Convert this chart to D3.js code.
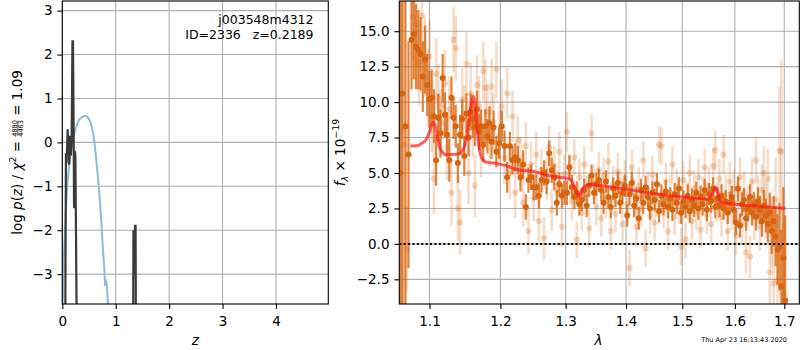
<!DOCTYPE html>
<html><head><meta charset="utf-8">
<script src="https://cdn.jsdelivr.net/npm/d3@7"></script>
<style>body{margin:0;background:#fff} svg{display:block} text{font-family:"DejaVu Sans",sans-serif; white-space:pre}</style>
</head><body><svg id="c" width="800" height="350"></svg>
<script>
// ---------- Left panel: p(z) ----------
const pzDomainX = [0, 4.98];
const pzDomainY = [-3.68, 3.22];
const pzTicksX = [0, 1, 2, 3, 4];
const pzTicksY = [-3, -2, -1, 0, 1, 2, 3];
// smooth prior-like curve (blue)
const pzBlue = [[0.0,-4.2],[0.013,-3.36],[0.03,-2.6],[0.05,-2.0],[0.075,-1.35],[0.1,-0.86],[0.13,-0.5],[0.163,-0.18],[0.2,0.08],[0.24,0.28],[0.31,0.51],[0.36,0.57],[0.41,0.6],[0.45,0.6],[0.49,0.55],[0.53,0.45],[0.56,0.32],[0.59,0.12],[0.61,-0.1],[0.64,-0.45],[0.66,-0.7],[0.69,-1.1],[0.71,-1.45],[0.73,-1.8],[0.75,-2.2],[0.77,-2.6],[0.79,-2.95],[0.80,-3.25],[0.81,-3.12],[0.83,-3.2],[0.86,-3.75],[0.87,-4.2]];
// p(z) from the fit (black)
const pzBlack = [[0.055,-4.5],[0.068,-0.25],[0.085,-0.3],[0.10,0.3],[0.115,-0.45],[0.13,-0.5],[0.145,0.15],[0.16,-0.3],[0.175,0.1],[0.19,2.3],[0.20,2.3],[0.21,0.7],[0.22,-1.5],[0.235,-0.2],[0.245,-0.3],[0.272,-4.5],
  [1.325,-4.5],[1.332,-2.0],[1.338,-2.6],[1.345,-2.2],[1.355,-3.0],[1.362,-1.9],[1.372,-1.9],[1.378,-4.5]];
const pzLabel1 = "j003548m4312";
const pzLabel2 = "ID=2336   z=0.2189";

// ---------- Right panel: spectrum ----------
const specDomainX = [1.06, 1.7316];
const specDomainY = [-4.24, 17.13];
const specTicksX = [1.1, 1.2, 1.3, 1.4, 1.5, 1.6, 1.7];
const specTicksY = [-2.5, 0, 2.5, 5, 7.5, 10, 12.5, 15];
// [wavelength, flux, error]
const darkSpec = [
[1.0615,5,40],[1.064,10.6,40],[1.068,8.3,40],[1.072,6.3,8],
[1.076,14.4,3.5],[1.079,14.8,3.2],[1.082,13.9,3],[1.085,13.7,2.8],[1.088,13.4,2.6],[1.091,11.8,2.5],[1.094,13.0,2.4],[1.097,11.2,2.2],
[1.100,10.2,2],[1.103,10.3,2],[1.106,9.0,1.9],[1.109,5.9,1.8],[1.112,8.9,1.7],[1.115,7.8,1.7],[1.118,11.7,1.7],[1.121,9.1,1.6],
[1.124,7.7,1.6],[1.127,5.9,1.5],[1.130,10.3,1.5],[1.133,8.9,1.5],[1.136,8.3,1.5],[1.139,5.7,1.4],[1.142,7.7,1.4],[1.145,8.8,1.4],
[1.148,6.2,1.4],[1.151,9.2,1.4],[1.154,7.5,1.3],[1.157,9.3,1.3],[1.160,8.8,1.3],[1.163,8.2,1.3],[1.166,9.5,1.3],[1.169,7.9,1.3],
[1.172,8.3,1.2],[1.175,7.0,1.2],[1.178,8.3,1.2],[1.181,7.6,1.2],[1.184,8.5,1.2],[1.187,7.2,1.2],[1.190,8.2,1.2],[1.194,6.5,1.1],
[1.198,7.1,1.1],[1.202,8.3,1.1],[1.206,6.9,1.1],[1.210,4.7,1.1],[1.214,6.9,1.0],[1.218,5.9,1.0],[1.222,6.1,1.0],[1.226,5.9,1.0],
[1.230,4.7,1.0],[1.234,5.6,1.0],[1.238,2.6,0.9],[1.242,4.5,0.9],[1.246,4.7,0.9],[1.250,4.0,0.9],[1.254,4.0,0.9],[1.258,3.4,0.9],
[1.262,4.5,0.9],[1.266,5.0,0.9],[1.270,4.4,0.9],[1.274,6.4,0.9],[1.278,5.2,0.9],[1.282,4.7,0.9],[1.286,2.9,0.9],[1.290,4.2,0.85],
[1.294,3.4,0.85],[1.298,3.6,0.85],[1.302,3.6,0.85],[1.306,5.4,0.85],[1.310,4.0,0.85],[1.314,3.3,0.85],[1.318,3.6,0.8],[1.322,2.8,0.8],
[1.326,3.1,0.8],[1.330,3.8,0.8],[1.334,2.7,0.8],[1.338,4.1,0.8],[1.342,4.8,0.8],[1.346,3.6,0.8],[1.350,4.2,0.8],[1.354,4.5,0.8],
[1.358,3.8,0.8],[1.362,2.9,0.8],[1.366,4.4,0.8],[1.370,3.3,0.8],[1.374,2.6,0.8],[1.378,3.9,0.8],[1.382,3.4,0.8],[1.386,4.3,0.8],
[1.390,2.9,0.8],[1.394,3.6,0.8],[1.398,4.1,0.8],[1.402,2.0,0.8],[1.406,3.5,0.8],[1.410,4.3,0.8],[1.414,2.7,0.8],[1.418,3.2,0.8],
[1.422,1.8,0.8],[1.426,3.8,0.8],[1.430,2.9,0.8],[1.434,4.0,0.8],[1.438,3.3,0.8],[1.442,2.5,0.8],[1.446,3.6,0.8],[1.450,3.1,0.8],
[1.454,4.2,0.8],[1.458,2.3,0.8],[1.462,3.4,0.8],[1.466,2.8,0.8],[1.470,3.7,0.8],[1.474,2.6,0.8],[1.478,3.2,0.8],[1.482,2.4,0.8],
[1.486,3.5,0.8],[1.490,2.9,0.8],[1.494,3.9,0.8],[1.498,2.2,0.8],[1.502,3.0,0.8],[1.506,2.6,0.8],[1.510,3.4,0.8],[1.514,2.3,0.8],
[1.518,3.1,0.8],[1.522,2.7,0.8],[1.526,3.6,0.8],[1.530,2.5,0.8],[1.534,3.3,0.8],[1.538,2.8,0.8],[1.542,3.8,0.8],[1.546,2.4,0.8],
[1.550,3.5,0.8],[1.554,3.0,0.8],[1.558,3.9,0.8],[1.562,2.6,0.8],[1.566,3.2,0.8],[1.570,2.7,0.8],[1.574,3.4,0.8],[1.578,2.5,0.8],
[1.582,3.0,0.8],[1.586,2.2,0.8],[1.590,2.9,0.8],[1.594,3.3,0.8],[1.598,2.4,0.8],[1.602,1.5,0.85],[1.606,3.9,0.85],[1.610,1.3,0.85],
[1.614,2.8,0.85],[1.618,3.1,0.85],[1.622,1.8,0.9],[1.626,2.5,0.9],[1.630,3.3,0.9],[1.634,2.2,0.9],[1.638,2.7,0.95],[1.642,1.9,0.95],
[1.646,3.0,1.0],[1.650,2.4,1.0],[1.654,1.6,1.1],[1.658,2.7,1.1],[1.662,2.0,1.2],[1.666,1.4,1.3],[1.670,2.2,1.4],[1.674,0.9,1.6],
[1.678,1.6,1.8],[1.682,0.5,2.1],[1.686,-0.4,2.5],[1.690,-0.2,3.1],[1.694,-3.0,4.0],[1.698,-1.0,5.0],[1.702,-4.0,6.0]];
const lightSpec = [
[1.063,8,30],[1.066,7,30],[1.070,-0.4,3],[1.078,16.0,3],[1.082,15.5,3],[1.086,12.8,3],[1.090,16.1,3],[1.094,13.2,2.8],[1.098,11.0,2.8],
[1.100,13.2,2.6],[1.103,9.0,2.5],[1.106,4.6,2.5],[1.109,12.0,2.5],[1.112,10.3,2.4],[1.115,8.5,2.4],[1.118,9.8,2.4],[1.121,11.3,2.4],
[1.124,6.8,2.3],[1.127,9.5,2.3],[1.130,3.6,2.3],[1.133,14.4,2.3],[1.136,13.8,2.3],[1.139,2.5,2.3],[1.142,1.5,2.3],[1.145,10.2,2.2],
[1.148,9.0,2.2],[1.151,12.7,2.2],[1.154,5.0,2.2],[1.157,10.6,2.2],[1.160,8.4,2.2],[1.163,4.1,2.2],[1.166,11.2,2.1],[1.169,9.7,2.1],
[1.172,6.8,2.1],[1.175,12.2,2.1],[1.178,11.0,2.0],[1.181,9.3,2.0],[1.184,7.4,2.0],[1.187,11.1,2.0],[1.190,8.6,2.0],[1.194,12.3,2.0],
[1.198,7.6,1.9],[1.202,9.7,1.9],[1.206,6.1,1.9],[1.210,10.6,1.8],[1.214,5.0,1.8],[1.218,9.0,1.8],[1.222,3.6,1.8],[1.226,7.3,1.7],
[1.230,5.8,1.7],[1.234,2.9,1.7],[1.238,6.9,1.7],[1.242,0.9,1.6],[1.246,5.6,1.6],[1.250,3.2,1.6],[1.254,6.3,1.6],[1.258,1.6,1.5],
[1.262,5.2,1.5],[1.266,0.4,1.5],[1.270,4.6,1.5],[1.274,6.8,1.5],[1.278,2.4,1.5],[1.282,5.5,1.4],[1.286,3.8,1.4],[1.290,6.5,1.4],
[1.294,1.2,1.4],[1.298,4.9,1.4],[1.302,7.9,1.4],[1.306,5.0,1.3],[1.310,3.0,1.3],[1.314,6.1,1.3],[1.318,0.3,1.3],[1.322,4.7,1.3],
[1.326,2.2,1.3],[1.330,5.6,1.3],[1.334,3.5,1.3],[1.338,1.1,1.3],[1.342,7.8,1.3],[1.346,4.3,1.3],[1.350,2.6,1.3],[1.354,5.2,1.3],
[1.358,1.8,1.3],[1.362,4.8,1.3],[1.366,3.1,1.3],[1.370,5.8,1.3],[1.374,0.9,1.3],[1.378,4.2,1.3],[1.382,2.1,1.3],[1.386,5.1,1.3],
[1.390,3.7,1.3],[1.394,1.4,1.3],[1.398,4.6,1.3],[1.402,2.8,1.3],[1.406,-1.7,1.3],[1.410,5.4,1.3],[1.414,3.4,1.3],[1.418,1.2,1.3],
[1.422,4.1,1.3],[1.426,2.5,1.3],[1.430,5.9,1.3],[1.434,-0.3,1.3],[1.438,3.8,1.3],[1.442,2.0,1.3],[1.446,4.9,1.3],[1.450,1.5,1.3],
[1.454,3.2,1.3],[1.458,7.0,1.3],[1.462,6.9,1.3],[1.466,2.4,1.3],[1.470,4.4,1.3],[1.474,0.9,1.3],[1.478,3.6,1.3],[1.482,5.6,1.3],
[1.486,1.9,1.3],[1.490,4.0,1.3],[1.494,2.7,1.3],[1.498,-0.2,1.3],[1.502,4.5,1.3],[1.506,0.3,1.3],[1.510,3.1,1.3],[1.514,5.0,1.3],
[1.518,1.6,1.3],[1.522,3.9,1.3],[1.526,2.3,1.3],[1.530,4.7,1.3],[1.534,1.0,1.3],[1.538,3.4,1.3],[1.542,5.4,1.3],[1.546,2.0,1.3],
[1.550,4.1,1.3],[1.554,1.4,1.3],[1.558,5.5,1.3],[1.562,6.6,1.4],[1.566,3.0,1.4],[1.570,4.6,1.4],[1.574,1.9,1.4],[1.578,6.3,1.4],
[1.582,3.5,1.4],[1.586,0.9,1.4],[1.590,4.4,1.4],[1.594,2.4,1.4],[1.598,3.9,1.4],[1.602,0.6,1.4],[1.606,2.9,1.4],[1.610,4.7,1.4],
[1.614,1.4,1.5],[1.618,3.6,1.5],[1.622,-0.6,1.5],[1.626,2.6,1.5],[1.630,-0.9,1.5],[1.634,4.4,1.6],[1.638,1.9,1.6],[1.642,5.9,1.6],
[1.646,3.1,1.7],[1.650,1.2,1.7],[1.654,3.8,1.8],[1.658,5.0,1.9],[1.662,2.4,2.0],[1.666,4.6,2.1],[1.670,-2.0,2.3],[1.674,0.8,2.5],
[1.678,-2.8,2.7],[1.682,3.1,3.0],[1.686,-2.6,3.3],[1.690,6.6,4.5],[1.694,6.5,6.5],[1.698,-3.5,5.0]];
// best-fit model (red)
const modelSpec = [[1.0743,6.9],[1.080,6.9],[1.090,7.1],[1.096,7.4],[1.100,7.9],[1.103,8.4],[1.1054,8.6],[1.108,8.3],[1.111,7.5],[1.114,6.8],[1.118,6.45],[1.122,6.3],
[1.130,6.3],[1.140,6.35],[1.146,6.6],[1.150,7.2],[1.153,8.1],[1.156,9.3],[1.159,10.2],[1.161,10.4],[1.163,9.9],[1.1655,8.6],[1.168,7.2],[1.171,6.3],[1.175,5.9],
[1.180,5.75],[1.190,5.7],[1.200,5.6],[1.210,5.5],[1.220,5.3],[1.230,5.2],[1.250,5.1],[1.270,4.85],[1.290,4.7],[1.305,4.6],[1.311,4.35],
[1.316,3.8],[1.3205,3.33],[1.324,3.55],[1.328,3.95],[1.333,4.12],[1.340,4.2],[1.360,4.1],[1.400,3.85],[1.450,3.55],[1.500,3.3],
[1.530,3.2],[1.548,3.15],[1.555,3.4],[1.5628,3.97],[1.567,3.6],[1.571,3.05],[1.576,2.9],[1.600,2.8],[1.650,2.65],[1.7026,2.5]];
const specZero = [0];
const timeStamp = "Thu Apr 23 16:13:43 2020";

// ---------- drawing ----------
const svg = d3.select("#c");
const FS = 13.5, TICK = 4.9, GRID = "#b0b0b0", LW = 1.1;
const ORANGE = "#d8650e";

function panel(x, y, ticksX, ticksY, fmtX, fmtY, id) {
  const [x0, x1] = x.range(), [y1, y0] = y.range();
  const g = svg.append("g");
  g.append("clipPath").attr("id", id).append("rect")
    .attr("x", x0).attr("y", y0).attr("width", x1 - x0).attr("height", y1 - y0);
  const grid = g.append("g");
  grid.selectAll(".gx").data(ticksX).join("line")
    .attr("x1", d => x(d)).attr("x2", d => x(d)).attr("y1", y0).attr("y2", y1)
    .attr("stroke", GRID).attr("stroke-width", LW);
  grid.selectAll(".gy").data(ticksY).join("line")
    .attr("y1", d => y(d)).attr("y2", d => y(d)).attr("x1", x0).attr("x2", x1)
    .attr("stroke", GRID).attr("stroke-width", LW);
  const data = g.append("g").attr("clip-path", `url(#${id})`);
  const ax = g.append("g").attr("transform", `translate(0,${y1})`)
    .call(d3.axisBottom(x).tickValues(ticksX).tickFormat(fmtX).tickSize(TICK).tickPadding(7.6));
  const ay = g.append("g").attr("transform", `translate(${x0},0)`)
    .call(d3.axisLeft(y).tickValues(ticksY).tickFormat(fmtY).tickSize(TICK).tickPadding(4.9));
  [ax, ay].forEach(a => {
    a.select(".domain").remove();
    a.selectAll("line").attr("stroke", "#000").attr("stroke-width", LW);
    a.selectAll("text").attr("font-size", FS).attr("font-family", "DejaVu Sans").attr("fill", "#000");
  });
  const frame = () => g.append("rect").attr("x", x0).attr("y", y0).attr("width", x1 - x0).attr("height", y1 - y0)
    .attr("fill", "none").attr("stroke", "#000").attr("stroke-width", LW);
  return { data, frame, g };
}

// Left panel
const zx = d3.scaleLinear().domain(pzDomainX).range([62.3, 328.3]);
const zy = d3.scaleLinear().domain(pzDomainY).range([304, 1]);
const P1 = panel(zx, zy, pzTicksX, pzTicksY, d3.format("d"), d3.format("d"), "clipL");
const zline = d3.line().x(d => zx(d[0])).y(d => zy(d[1]));
P1.data.append("path").attr("d", zline(pzBlue)).attr("fill", "none")
  .attr("stroke", "#8fbcdc").attr("stroke-width", 2).attr("stroke-linejoin", "round");
P1.data.append("path").attr("d", zline(pzBlack)).attr("fill", "none")
  .attr("stroke", "#3a3a3a").attr("stroke-width", 2.2).attr("stroke-linejoin", "miter");
P1.frame();
P1.g.append("text").attr("x", 313.5).attr("y", 23.5).attr("text-anchor", "end").attr("font-size", 12.5).text(pzLabel1);
P1.g.append("text").attr("x", 313.5).attr("y", 39).attr("text-anchor", "end").attr("font-size", 12.5).text(pzLabel2);
svg.append("text").attr("x", zx(2.49)).attr("y", 345).attr("text-anchor", "middle")
  .attr("font-size", FS).attr("font-style", "italic").text("z");

// Left y label (rotated, with stacked fraction)
{
  const outer = svg.append("g").attr("transform", "translate(22,152.5) rotate(-90)");
  const g = outer.append("g");
  const tA = g.append("text").attr("font-size", FS);
  tA.append("tspan").text("log ");
  tA.append("tspan").attr("font-style", "italic").text("p");
  tA.append("tspan").text("(");
  tA.append("tspan").attr("font-style", "italic").text("z");
  tA.append("tspan").text(") / ");
  tA.append("tspan").attr("font-style", "italic").text("χ");
  tA.append("tspan").attr("font-size", FS * 0.7).attr("dy", -FS * 0.42).text("2");
  tA.append("tspan").attr("dy", FS * 0.42).text(" = ");
  const lenA = tA.node().getComputedTextLength();
  const fracW = 15.5;
  const fc = lenA + fracW / 2 + 0.5;
  g.append("text").attr("x", fc).attr("y", -5.2).attr("text-anchor", "middle").attr("font-size", 6.6).text("4880");
  g.append("text").attr("x", fc).attr("y", 1.0).attr("text-anchor", "middle").attr("font-size", 6.6).text("4463");
  g.append("line").attr("x1", lenA + 0.5).attr("x2", lenA + fracW + 0.5).attr("y1", -4.2).attr("y2", -4.2)
    .attr("stroke", "#000").attr("stroke-width", 0.6);
  const tB = g.append("text").attr("x", lenA + fracW + 1).attr("font-size", FS).text(" = 1.09");
  const lenB = tB.node().getComputedTextLength();
  g.attr("transform", `translate(${-(lenA + fracW + 1 + lenB) / 2},0)`);
}

// Right panel
const sx = d3.scaleLog().domain(specDomainX).range([399.3, 799.3]);
const sy = d3.scaleLinear().domain(specDomainY).range([304, 1]);
const P2 = panel(sx, sy, specTicksX, specTicksY, d3.format(".1f"), d3.format(".1f"), "clipR");
// light series
P2.data.append("g").selectAll("line").data(lightSpec).join("line")
  .attr("x1", d => sx(d[0])).attr("x2", d => sx(d[0]))
  .attr("y1", d => sy(d[1] - d[2])).attr("y2", d => sy(d[1] + d[2]))
  .attr("stroke", ORANGE).attr("stroke-opacity", 0.22).attr("stroke-width", 2.6);
P2.data.append("g").selectAll("circle").data(lightSpec).join("circle")
  .attr("cx", d => sx(d[0])).attr("cy", d => sy(d[1])).attr("r", 3.1)
  .attr("fill", ORANGE).attr("fill-opacity", 0.25);
// dark series
P2.data.append("g").selectAll("line").data(darkSpec).join("line")
  .attr("x1", d => sx(d[0])).attr("x2", d => sx(d[0]))
  .attr("y1", d => sy(d[1] - d[2])).attr("y2", d => sy(d[1] + d[2]))
  .attr("stroke", ORANGE).attr("stroke-opacity", 0.8).attr("stroke-width", 2.2);
P2.data.append("g").selectAll("circle").data(darkSpec).join("circle")
  .attr("cx", d => sx(d[0])).attr("cy", d => sy(d[1])).attr("r", 3)
  .attr("fill", ORANGE);
// zero line
P2.data.selectAll(".zero").data(specZero).join("line")
  .attr("x1", sx(specDomainX[0])).attr("x2", sx(specDomainX[1]))
  .attr("y1", d => sy(d)).attr("y2", d => sy(d))
  .attr("stroke", "#000").attr("stroke-width", 2).attr("stroke-dasharray", "2,2.4");
// model
P2.data.append("path").attr("d", d3.line().x(d => sx(d[0])).y(d => sy(d[1])).curve(d3.curveMonotoneX)(modelSpec))
  .attr("fill", "none").attr("stroke", "#ff1a1a").attr("stroke-opacity", 0.7).attr("stroke-width", 3)
  .attr("stroke-linejoin", "round");
P2.frame();
svg.append("text").attr("x", 598.5).attr("y", 345).attr("text-anchor", "middle")
  .attr("font-size", FS).attr("font-style", "italic").text("λ");
{
  const t = svg.append("g").attr("transform", "translate(345,152.5) rotate(-90)")
    .append("text").attr("text-anchor", "middle").attr("font-size", FS);
  t.append("tspan").attr("font-style", "italic").text("f");
  t.append("tspan").attr("font-style", "italic").attr("font-size", FS * 0.7).attr("dy", FS * 0.22).text("λ");
  t.append("tspan").attr("dy", -FS * 0.22).text(" × 10");
  t.append("tspan").attr("font-size", FS * 0.7).attr("dy", -FS * 0.45).text("−19");
}
svg.append("text").attr("x", 787).attr("y", 342).attr("text-anchor", "end").attr("font-size", 6.5).text(timeStamp);
</script></body></html>
